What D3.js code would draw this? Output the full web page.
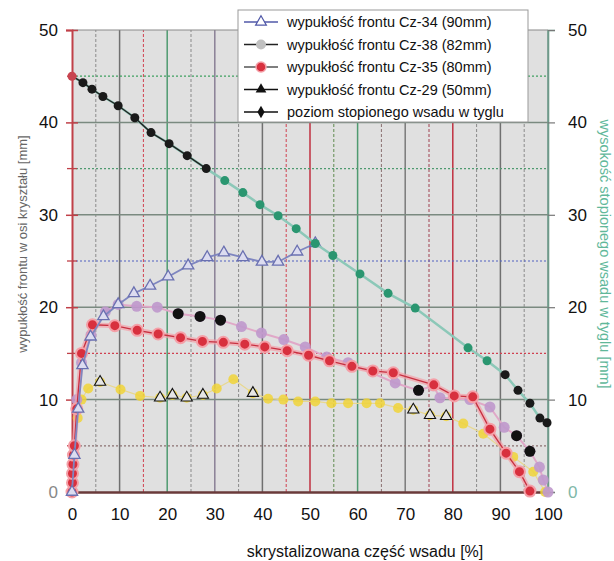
<!DOCTYPE html>
<html>
<head>
<meta charset="utf-8">
<script src="https://cdn.jsdelivr.net/npm/d3@7"></script>
<style>
  body { margin: 0; background: #fff; }
  text { font-family: "Liberation Sans", Arial, sans-serif; }
</style>
</head>
<body>
<div id="chart"></div>
<script>
// x = skrystalizowana część wsadu [%], y = mm
const xTicks = [0, 10, 20, 30, 40, 50, 60, 70, 80, 90, 100];
const yTicks = [0, 10, 20, 30, 40, 50];
const gridX = [5, 10, 15, 20, 25, 30, 35, 40, 45, 50, 55, 60, 65, 70, 75, 80, 85, 90, 95, 100];
const gridY = [5, 10, 15, 20, 25, 30, 35, 40, 45];

const seriesNames = [
    "wypukłość frontu Cz-34 (90mm)",
    "wypukłość frontu Cz-38 (82mm)",
    "wypukłość frontu Cz-35 (80mm)",
    "wypukłość frontu Cz-29 (50mm)",
    "poziom stopionego wsadu w tyglu"
];

const cz34 = [[0, 0], [0.5, 4], [1.3, 9], [2.2, 13.7], [3.9, 16.8], [6.6, 19], [9.7, 20.3], [13, 21.5],
    [16.4, 22.3], [20.2, 23.3], [24.4, 24.5], [28.4, 25.4], [31.9, 25.9], [35.9, 25.4], [39.9, 24.9],
    [43.3, 24.9], [47.3, 26], [51.1, 26.9]];

const cz38 = [[0, 0], [0.5, 5], [1, 10], [2, 14], [4, 17], [7, 19.5], [9.7, 20.3], [13.6, 20.1], [17.9, 20],
    [22.3, 19.3], [26.9, 19], [31.2, 18.6], [35.6, 17.9], [39.8, 17.2], [44.5, 16.5], [49, 15.7],
    [53.5, 14.6], [58, 14], [67.9, 11.8], [72.8, 11], [75.9, 11.5], [77.3, 10.2], [83.6, 10],
    [87.8, 9.2], [90.8, 7], [93.4, 6.1], [96.2, 4.4], [98.2, 2.7], [99, 1.3], [100, 0]];
// points of Cz-38 that show up black in the scan
const cz38Dark = [[22.3, 19.3], [26.9, 19], [31.2, 18.6], [72.8, 11], [93.4, 6.1], [96.2, 4.4]];

const cz35 = [[0, 0], [0.1, 1], [0.1, 2], [0.2, 3], [0.3, 4], [0.5, 5], [1, 9], [2, 15], [4.3, 18.1],
    [9, 18], [13.7, 17.5], [18.1, 17.1], [22.8, 16.7], [27.4, 16.3], [31.8, 16.2], [36.3, 16],
    [40.5, 15.7], [45.2, 15.3], [49.7, 14.8], [54.1, 14.2], [58.8, 13.6], [63.2, 13.1], [67.5, 12.9],
    [76, 11.6], [80.3, 10.4], [84.2, 10.3], [87.8, 6.8], [91.2, 4.2], [94, 2.2], [96.2, 0.1]];

const cz29 = [[0, 0], [0.3, 2], [0.5, 5], [1.2, 8], [2, 10], [3.4, 11.2], [5.9, 11.9], [10.2, 11.1],
    [14.3, 10.4], [18.5, 10.2], [21.1, 10.5], [24.1, 10.2], [27.5, 10.5], [30.4, 11.2], [33.9, 12.2],
    [38, 10.7], [41.2, 10.1], [44.4, 10], [47.5, 9.8], [51.1, 9.8], [54.5, 9.6], [58, 9.6], [61.9, 9.6],
    [64.7, 9.6], [68.5, 9.1], [71.7, 8.9], [75.2, 8.3], [78.6, 8.2], [82.2, 7.4], [86.4, 6.3],
    [92.7, 3.8], [96.9, 2.2], [99.4, 0]];
// points of Cz-29 drawn as open triangles in the scan
const cz29Open = [[5.9, 11.9], [18.5, 10.2], [21.1, 10.5], [24.1, 10.2], [27.5, 10.5], [38, 10.7],
    [71.7, 8.9], [75.2, 8.3], [78.6, 8.2]];

const level = [[0, 45], [2.3, 44.3], [4.2, 43.6], [6.5, 42.8], [9.7, 41.8], [13.2, 40.5], [16.6, 38.9],
    [20.4, 37.7], [24.2, 36.4], [28.2, 35], [32.1, 33.7], [35.9, 32.4], [39.5, 31.1], [43.3, 29.9],
    [47.1, 28.5], [51.1, 26.9], [54.8, 25.6], [60.5, 23.6], [66.4, 21.5], [72.1, 19.9], [83.2, 15.6],
    [87.2, 14.2], [91, 12.7], [93.7, 11], [96.2, 9.6], [98.3, 8], [99.8, 7.5]];

const width = 614;
const height = 561;
const margin = { left: 72, right: 66, top: 30, bottom: 69 };
const plotW = width - margin.left - margin.right;
const plotH = height - margin.top - margin.bottom;

const svg = d3.select("#chart").append("svg")
    .attr("width", width)
    .attr("height", height);

const x = d3.scaleLinear().domain([0, 100]).range([margin.left, margin.left + plotW]);
const y = d3.scaleLinear().domain([0, 50]).range([margin.top + plotH, margin.top]);

// plot background
svg.append("rect")
    .attr("x", x(0)).attr("y", y(50))
    .attr("width", x(100) - x(0)).attr("height", y(0) - y(50))
    .attr("fill", "#e0e0e0");

// gridlines - the scan has them in odd colours
const vColor = { 5: "#8a8a8a", 10: "#707070", 15: "#d04050", 20: "#4f9a70", 25: "#8a8a8a", 30: "#8a7f95",
    35: "#8a8a8a", 40: "#707070", 45: "#d04050", 50: "#c03040", 55: "#5f8a4f", 60: "#4f9a70", 65: "#8a7070",
    70: "#7a7a7a", 75: "#a04050", 80: "#c03040", 85: "#8a8a8a", 90: "#707070", 95: "#8a8a8a", 100: "#6f9a8a" };
const hColor = { 5: "#8a7070", 10: "#7a8a80", 15: "#d04050", 20: "#7a8a80", 25: "#5060c0", 30: "#7a8a80",
    35: "#4f9a70", 40: "#7a8a80", 45: "#3fa060" };

svg.append("g").selectAll("line")
    .data(gridX)
    .join("line")
    .attr("x1", d => x(d)).attr("x2", d => x(d))
    .attr("y1", y(0)).attr("y2", y(50))
    .attr("stroke", d => vColor[d])
    .attr("stroke-width", d => d % 10 === 0 ? 1.5 : 1)
    .attr("stroke-dasharray", d => d % 10 === 0 ? null : "3,2");

svg.append("g").selectAll("line")
    .data(gridY)
    .join("line")
    .attr("x1", x(0)).attr("x2", x(100))
    .attr("y1", d => y(d)).attr("y2", d => y(d))
    .attr("stroke", d => hColor[d])
    .attr("stroke-width", d => d % 10 === 0 ? 1.5 : 1.2)
    .attr("stroke-dasharray", d => d % 10 === 0 ? null : "2,2");

// top edge
svg.append("line")
    .attr("x1", x(0)).attr("x2", x(100)).attr("y1", y(50)).attr("y2", y(50))
    .attr("stroke", "#8a8a8a").attr("stroke-width", 1.2);

// axes
const leftAxis = svg.append("g")
    .attr("transform", `translate(${x(0)},0)`)
    .call(d3.axisLeft(y).tickValues(yTicks).tickSize(6).tickPadding(8));
leftAxis.select(".domain").attr("stroke", "#c04048").attr("stroke-width", 2);
leftAxis.selectAll(".tick line").attr("stroke", "#c04048").attr("stroke-width", 1.5).attr("x2", 6).attr("x1", -6);
leftAxis.selectAll(".tick text").attr("font-size", 17)
    .attr("fill", d => d === 0 ? "#888" : "#111");

// minor ticks on left axis
svg.append("g").selectAll("line")
    .data([5, 15, 25, 35, 45])
    .join("line")
    .attr("x1", x(0) - 5).attr("x2", x(0) + 5)
    .attr("y1", d => y(d)).attr("y2", d => y(d))
    .attr("stroke", "#c04048").attr("stroke-width", 1.3);

const rightAxis = svg.append("g")
    .attr("transform", `translate(${x(100)},0)`)
    .call(d3.axisRight(y).tickValues(yTicks).tickSize(7).tickPadding(13));
rightAxis.select(".domain").attr("stroke", "#6f9a8a").attr("stroke-width", 1.6);
rightAxis.selectAll(".tick line").attr("stroke", "#777").attr("stroke-width", 1.2);
rightAxis.selectAll(".tick text").attr("font-size", 17)
    .attr("fill", d => d === 0 ? "#7fb8a8" : "#111");

const bottomAxis = svg.append("g")
    .attr("transform", `translate(0,${y(0)})`)
    .call(d3.axisBottom(x).tickValues(xTicks).tickSize(0).tickPadding(16));
bottomAxis.select(".domain").attr("stroke", "#6a3a3a").attr("stroke-width", 2.5);
bottomAxis.selectAll(".tick text").attr("font-size", 17).attr("fill", "#111");

// axis titles
svg.append("text")
    .attr("x", 365).attr("y", 557)
    .attr("text-anchor", "middle")
    .attr("font-size", 16)
    .attr("fill", "#111")
    .text("skrystalizowana część wsadu [%]");

svg.append("text")
    .attr("transform", "translate(27,244) rotate(-90)")
    .attr("text-anchor", "middle")
    .attr("font-size", 13)
    .attr("fill", "#666")
    .text("wypukłość frontu w osi kryształu [mm]");

svg.append("text")
    .attr("transform", "translate(600,254) rotate(90)")
    .attr("text-anchor", "middle")
    .attr("font-size", 14.5)
    .attr("fill", "#5fb89a")
    .text("wysokość stopionego wsadu w tyglu [mm]");

// series
const line = d3.line().x(d => x(d[0])).y(d => y(d[1]));
const tri = d3.symbol().type(d3.symbolTriangle).size(55);

// Cz-29
svg.append("path").datum(cz29).attr("d", line)
    .attr("fill", "none").attr("stroke", "#e8d890").attr("stroke-width", 1.2);
svg.append("g").selectAll("circle").data(cz29).join("circle")
    .attr("cx", d => x(d[0])).attr("cy", d => y(d[1])).attr("r", 5)
    .attr("fill", "#f0d438").attr("opacity", 0.85);
svg.append("g").selectAll("path").data(cz29Open).join("path")
    .attr("d", tri)
    .attr("transform", d => `translate(${x(d[0])},${y(d[1])})`)
    .attr("fill", "#e6e6e6").attr("stroke", "#111").attr("stroke-width", 1.1);

// Cz-38
svg.append("path").datum(cz38).attr("d", line)
    .attr("fill", "none").attr("stroke", "#e0a8c8").attr("stroke-width", 2);
svg.append("g").selectAll("circle").data(cz38).join("circle")
    .attr("cx", d => x(d[0])).attr("cy", d => y(d[1])).attr("r", 5.5)
    .attr("fill", "#bf98cc").attr("opacity", 0.9);
svg.append("g").selectAll("circle").data(cz38Dark).join("circle")
    .attr("cx", d => x(d[0])).attr("cy", d => y(d[1])).attr("r", 5.5)
    .attr("fill", "#111");

// Cz-35
svg.append("path").datum(cz35).attr("d", line)
    .attr("fill", "none").attr("stroke", "#f4a0a8").attr("stroke-width", 5).attr("opacity", 0.7);
svg.append("path").datum(cz35).attr("d", line)
    .attr("fill", "none").attr("stroke", "#c83040").attr("stroke-width", 1.3);
svg.append("g").selectAll("circle").data(cz35).join("circle")
    .attr("cx", d => x(d[0])).attr("cy", d => y(d[1])).attr("r", 5.5)
    .attr("fill", "#d8303e").attr("stroke", "#f4a0a8").attr("stroke-width", 2);

// Cz-34
svg.append("path").datum(cz34).attr("d", line)
    .attr("fill", "none").attr("stroke", "#7f86c0").attr("stroke-width", 1.8);
svg.append("g").selectAll("path").data(cz34).join("path")
    .attr("d", tri)
    .attr("transform", d => `translate(${x(d[0])},${y(d[1])})`)
    .attr("fill", "#dcdcf0").attr("stroke", "#6a70b0").attr("stroke-width", 1.3);

// melt level
svg.append("path").datum(level).attr("d", line)
    .attr("fill", "none").attr("stroke", "#8cc8b8").attr("stroke-width", 2.5);
svg.append("path").datum(level.slice(0, 10)).attr("d", line)
    .attr("fill", "none").attr("stroke", "#222").attr("stroke-width", 1.4);
svg.append("g").selectAll("circle").data(level).join("circle")
    .attr("cx", d => x(d[0])).attr("cy", d => y(d[1])).attr("r", 4.5)
    .attr("fill", (d, i) => i === 0 ? "#c84450" : (i < 10 || d[0] > 88 ? "#1a1a1a" : "#2a9670"));

// legend
const legend = svg.append("g").attr("transform", "translate(238,10)");
legend.append("rect")
    .attr("width", 290).attr("height", 112)
    .attr("fill", "#fff").attr("stroke", "#999").attr("stroke-width", 1);

const legendRows = legend.selectAll("g")
    .data(seriesNames)
    .join("g")
    .attr("transform", (d, i) => `translate(0,${12 + i * 22.5})`);

legendRows.append("line")
    .attr("x1", 6).attr("x2", 40)
    .attr("stroke", (d, i) => ["#5058a8", "#222", "#555", "#111", "#111"][i])
    .attr("stroke-width", 1.3);

legendRows.each(function (d, i) {
    const g = d3.select(this);
    if (i === 0) {
        g.append("path").attr("d", d3.symbol().type(d3.symbolTriangle).size(50))
            .attr("transform", "translate(23,0)")
            .attr("fill", "#fff").attr("stroke", "#5058a8").attr("stroke-width", 1.2);
    } else if (i === 1) {
        g.append("circle").attr("cx", 23).attr("r", 5).attr("fill", "#c0c0c0");
    } else if (i === 2) {
        g.append("circle").attr("cx", 23).attr("r", 5).attr("fill", "#d8303e").attr("stroke", "#f4a0a8").attr("stroke-width", 1.5);
    } else if (i === 3) {
        g.append("path").attr("d", d3.symbol().type(d3.symbolTriangle).size(50))
            .attr("transform", "translate(23,0)").attr("fill", "#111");
    } else {
        g.append("path").attr("d", d3.symbol().type(d3.symbolDiamond).size(45))
            .attr("transform", "translate(23,0)").attr("fill", "#111");
    }
});

legendRows.append("text")
    .attr("x", 49).attr("dy", "0.35em")
    .attr("font-size", 14.5).attr("fill", "#111")
    .text(d => d);
</script>
</body>
</html>
